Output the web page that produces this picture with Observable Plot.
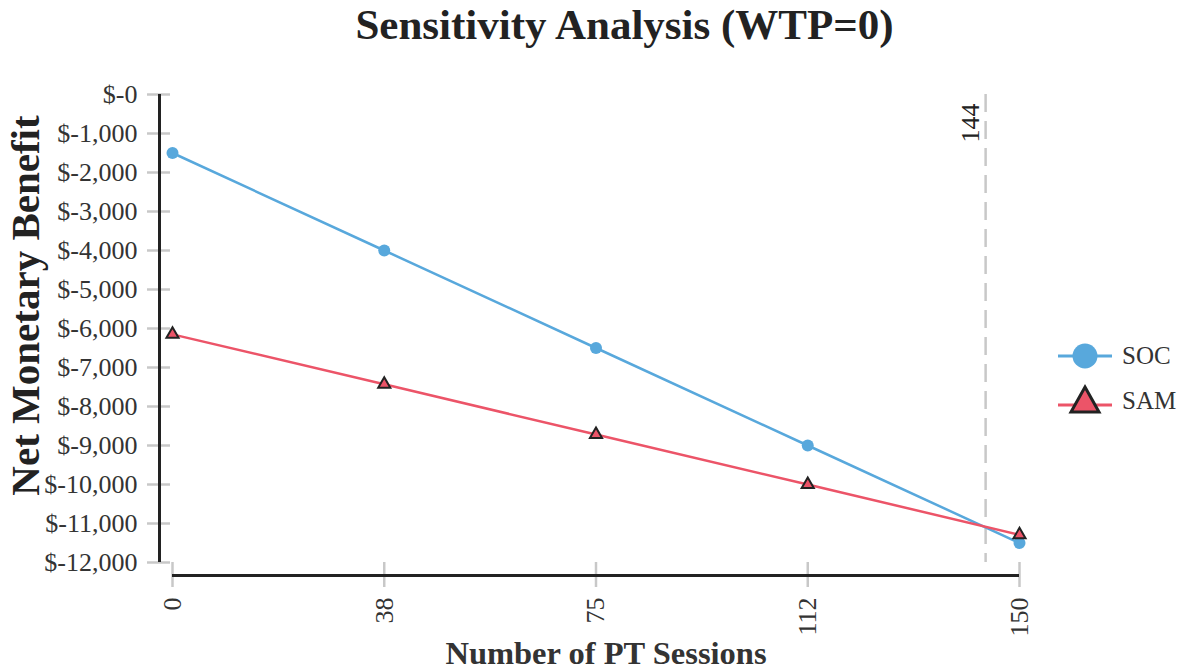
<!DOCTYPE html>
<html>
<head>
<meta charset="utf-8">
<script src="https://cdn.jsdelivr.net/npm/d3@7"></script>
<script src="https://cdn.jsdelivr.net/npm/@observablehq/plot@0.6"></script>
<style>
  html, body { margin: 0; padding: 0; background: #fff; }
  #wrap { position: relative; width: 1181px; height: 671px; overflow: hidden; font-family: "Liberation Serif", "Times New Roman", serif; color: #333; }
  #title { position: absolute; top: 0; left: 0; width: 1249px; text-align: center; font-size: 43px; line-height: normal; font-weight: bold; color: #222; }
  #legend { position: absolute; left: 1056px; top: 333px; }
  .row { display: flex; align-items: center; height: 45px; }
  .row span { font-size: 25px; margin-left: 8px; color: #333; }
</style>
</head>
<body>
<div id="wrap">
  <div id="chart"></div>
  <div id="title"></div>
  <div id="legend"></div>
</div>
<script>
const chartTitle = "Sensitivity Analysis (WTP=0)";
const xTitle = "Number of PT Sessions";
const yTitle = "Net Monetary Benefit";
const xValues = [0, 37.5, 75, 112.5, 150];
const xTickLabels = ["0", "38", "75", "112", "150"];
const socValues = [-1500, -4000, -6500, -9000, -11500];
const samValues = [-6150, -7430, -8720, -10000, -11290];
const seriesNames = ["SOC", "SAM"];
const seriesColors = ["#58a8dc", "#ec5468"];
const yTicks = [0, -1000, -2000, -3000, -4000, -5000, -6000, -7000, -8000, -9000, -10000, -11000, -12000];
const yTickLabels = ["$-0", "$-1,000", "$-2,000", "$-3,000", "$-4,000", "$-5,000", "$-6,000", "$-7,000", "$-8,000", "$-9,000", "$-10,000", "$-11,000", "$-12,000"];
const thresholdValue = [144];
const thresholdLabel = ["144"];

const soc = xValues.map((x, i) => ({x, y: socValues[i], s: "SOC"}));
const sam = xValues.map((x, i) => ({x, y: samValues[i], s: "SAM"}));

const serif = "'Liberation Serif', 'Times New Roman', serif";

const chart = Plot.plot({
  width: 1181,
  height: 671,
  marginLeft: 172,
  marginRight: 162,
  marginTop: 94,
  marginBottom: 109,
  x: {domain: [0, 150]},
  y: {domain: [-12000, 0]},
  style: {fontFamily: serif, color: "#333", background: "transparent", overflow: "visible"},
  marks: [
    Plot.axisY({ticks: yTicks, tickFormat: (d) => yTickLabels[yTicks.indexOf(d)], tickSize: 23, dx: -2, tickPadding: 10,
      stroke: "#c8c8c8", strokeWidth: 2.5, fill: "#333", fontSize: 26, label: null}),
    Plot.axisX({ticks: xValues, tickFormat: (d) => xTickLabels[xValues.indexOf(d)], tickSize: 25, tickPadding: 10, tickRotate: -90,
      stroke: "#c8c8c8", strokeWidth: 2.5, fill: "#333", fontSize: 26, label: null}),
    Plot.ruleX([0], {dx: -13, stroke: "#222", strokeWidth: 3}),
    Plot.ruleY([-12000], {dy: 13, stroke: "#222", strokeWidth: 3}),
    Plot.ruleX(thresholdValue, {stroke: "#c8c8c8", strokeWidth: 2.5, strokeDasharray: "18,9"}),
    Plot.text(thresholdValue, {x: (d) => d, y: 0, text: (d, i) => thresholdLabel[i], rotate: -90, textAnchor: "end", dx: -15, dy: 9, fontSize: 26, fill: "#222"}),
    Plot.line(soc, {x: "x", y: "y", stroke: seriesColors[0], strokeWidth: 2.5}),
    Plot.dot(soc, {x: "x", y: "y", r: 6, fill: seriesColors[0], stroke: "none"}),
    Plot.line(sam, {x: "x", y: "y", stroke: seriesColors[1], strokeWidth: 2.5}),
    Plot.dot(sam, {x: "x", y: "y", r: 4.5, symbol: "triangle", fill: seriesColors[1], stroke: "#222", strokeWidth: 2}),
    Plot.text([yTitle], {frameAnchor: "left", text: (d) => d, rotate: -90, textAnchor: "middle", lineAnchor: "middle", dx: -147, dy: -23, fontSize: 41, fontWeight: "bold", fill: "#222"}),
    Plot.text([xTitle], {frameAnchor: "bottom", text: (d) => d, textAnchor: "middle", lineAnchor: "middle", dx: 10, dy: 91, fontSize: 32.5, fontWeight: "bold", fill: "#333"})
  ]
});
document.getElementById("chart").appendChild(chart);
document.getElementById("title").textContent = chartTitle;

const legend = document.getElementById("legend");
seriesNames.forEach((name, i) => {
  const row = document.createElement("div");
  row.className = "row";
  const marker = i === 0
    ? `<circle cx="29" cy="18" r="12.5" fill="${seriesColors[i]}"/>`
    : `<path d="M29,4 L43,29 L15,29 Z" fill="${seriesColors[i]}" stroke="#222" stroke-width="3" stroke-linejoin="miter"/>`;
  row.innerHTML = `<svg width="58" height="36"><line x1="2" x2="56" y1="${i === 0 ? 18 : 22}" y2="${i === 0 ? 18 : 22}" stroke="${seriesColors[i]}" stroke-width="3"/>${marker}</svg><span>${name}</span>`;
  legend.appendChild(row);
});
</script>
</body>
</html>
